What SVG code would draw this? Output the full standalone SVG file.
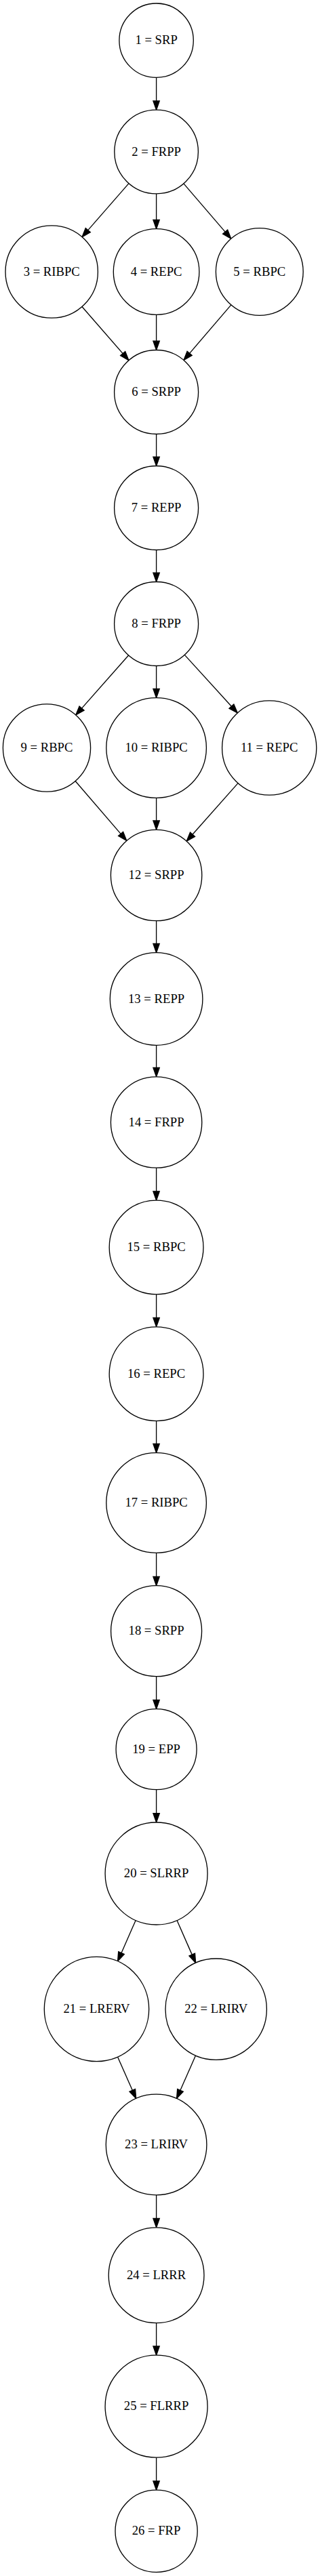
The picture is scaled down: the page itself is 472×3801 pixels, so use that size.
<svg xmlns="http://www.w3.org/2000/svg" width="472" height="3801" viewBox="0 0 472 3801">
<defs>
<style>
.n circle{fill:#fff;stroke:#000;stroke-width:1.33}
.n text{font-family:"Liberation Serif","Times New Roman",serif;font-size:18.67px;text-anchor:middle;fill:#000}
.e line{stroke:#000;stroke-width:1.33;fill:none;marker-end:url(#ah)}
</style>
<marker id="ah" markerUnits="userSpaceOnUse" markerWidth="16" markerHeight="12" refX="0" refY="0" orient="auto" overflow="visible">
<path d="M0,-4.67 L13.33,0 L0,4.67 Z" fill="#000" stroke="#000" stroke-width="1.33"/>
</marker>
</defs>
<rect x="0" y="0" width="472" height="3801" fill="#fff"/>
<g id="connectors" class="e">
<line x1="230.6" y1="114.4" x2="230.6" y2="148.9"/>
<line x1="189.98" y1="270.57" x2="129.79" y2="339.57"/>
<line x1="230.6" y1="285.8" x2="230.6" y2="324.4"/>
<line x1="270.89" y1="270.86" x2="332.12" y2="342.06"/>
<line x1="120.96" y1="452.46" x2="181.16" y2="521.66"/>
<line x1="230.6" y1="464.3" x2="230.6" y2="503.2"/>
<line x1="340.88" y1="449.89" x2="279.64" y2="521.32"/>
<line x1="230.6" y1="640.5" x2="230.6" y2="674.2"/>
<line x1="230.6" y1="811.5" x2="230.6" y2="845.2"/>
<line x1="189.56" y1="966.97" x2="120.58" y2="1045.09"/>
<line x1="230.6" y1="982.5" x2="230.6" y2="1016.4"/>
<line x1="272.34" y1="966.34" x2="341.38" y2="1042.18"/>
<line x1="111.11" y1="1152.49" x2="178.11" y2="1230.43"/>
<line x1="230.6" y1="1177.3" x2="230.6" y2="1211.0"/>
<line x1="351.04" y1="1155.59" x2="284.01" y2="1231.23"/>
<line x1="230.6" y1="1358.7" x2="230.6" y2="1392.4"/>
<line x1="230.6" y1="1542.3" x2="230.6" y2="1575.5"/>
<line x1="230.6" y1="1723.2" x2="230.6" y2="1757.8"/>
<line x1="230.6" y1="1909.9" x2="230.6" y2="1944.5"/>
<line x1="230.6" y1="2096.6" x2="230.6" y2="2130.4"/>
<line x1="230.6" y1="2291.3" x2="230.6" y2="2326.4"/>
<line x1="230.6" y1="2473.7" x2="230.6" y2="2508.4"/>
<line x1="230.6" y1="2640.7" x2="230.6" y2="2675.7"/>
<line x1="200.17" y1="2833.59" x2="178.99" y2="2881.65"/>
<line x1="261.01" y1="2833.6" x2="283.24" y2="2884.13"/>
<line x1="173.62" y1="3035.15" x2="195.28" y2="3084.31"/>
<line x1="288.56" y1="3033.05" x2="265.96" y2="3084.32"/>
<line x1="230.6" y1="3238.8" x2="230.6" y2="3273.5"/>
<line x1="230.6" y1="3427.6" x2="230.6" y2="3461.9"/>
<line x1="230.6" y1="3626.2" x2="230.6" y2="3660.9"/>
</g>
<g id="node1" class="n"><circle cx="230.6" cy="59.7" r="54.7"/><text x="230.6" y="65.2">1 = SRP</text></g>
<g id="node2" class="n"><circle cx="230.6" cy="224" r="61.8"/><text x="230.6" y="229.5">2 = FRPP</text></g>
<g id="node3" class="n"><circle cx="76.2" cy="401" r="68.2"/><text x="76.2" y="406.5">3 = RIBPC</text></g>
<g id="node4" class="n"><circle cx="230.6" cy="401" r="63.3"/><text x="230.6" y="406.5">4 = REPC</text></g>
<g id="node5" class="n"><circle cx="382.8" cy="401" r="64.4"/><text x="382.8" y="406.5">5 = RBPC</text></g>
<g id="node6" class="n"><circle cx="230.6" cy="578.5" r="62"/><text x="230.6" y="584">6 = SRPP</text></g>
<g id="node7" class="n"><circle cx="230.6" cy="749.5" r="62"/><text x="230.6" y="755">7 = REPP</text></g>
<g id="node8" class="n"><circle cx="230.6" cy="920.5" r="62"/><text x="230.6" y="926">8 = FRPP</text></g>
<g id="node9" class="n"><circle cx="69" cy="1103.5" r="64.6"/><text x="69" y="1109">9 = RBPC</text></g>
<g id="node10" class="n"><circle cx="230.6" cy="1103.5" r="73.8"/><text x="230.6" y="1109">10 = RIBPC</text></g>
<g id="node11" class="n"><circle cx="397.2" cy="1103.5" r="69.6"/><text x="397.2" y="1109">11 = REPC</text></g>
<g id="node12" class="n"><circle cx="230.6" cy="1291.5" r="67.2"/><text x="230.6" y="1297">12 = SRPP</text></g>
<g id="node13" class="n"><circle cx="230.6" cy="1474" r="68.3"/><text x="230.6" y="1479.5">13 = REPP</text></g>
<g id="node14" class="n"><circle cx="230.6" cy="1656" r="67.2"/><text x="230.6" y="1661.5">14 = FRPP</text></g>
<g id="node15" class="n"><circle cx="230.6" cy="1840.5" r="69.4"/><text x="230.6" y="1846">15 = RBPC</text></g>
<g id="node16" class="n"><circle cx="230.6" cy="2027.2" r="69.4"/><text x="230.6" y="2032.7">16 = REPC</text></g>
<g id="node17" class="n"><circle cx="230.6" cy="2217.5" r="73.8"/><text x="230.6" y="2223">17 = RIBPC</text></g>
<g id="node18" class="n"><circle cx="230.6" cy="2406.7" r="67"/><text x="230.6" y="2412.2">18 = SRPP</text></g>
<g id="node19" class="n"><circle cx="230.6" cy="2581.2" r="59.5"/><text x="230.6" y="2586.7">19 = EPP</text></g>
<g id="node20" class="n"><circle cx="230.6" cy="2764.5" r="75.5"/><text x="230.6" y="2770">20 = SLRRP</text></g>
<g id="node21" class="n"><circle cx="142.5" cy="2964.5" r="77.2"/><text x="142.5" y="2970">21 = LRERV</text></g>
<g id="node22" class="n"><circle cx="318.7" cy="2964.7" r="74.7"/><text x="318.7" y="2970.2">22 = LRIRV</text></g>
<g id="node23" class="n"><circle cx="230.6" cy="3164.5" r="74.3"/><text x="230.6" y="3170">23 = LRIRV</text></g>
<g id="node24" class="n"><circle cx="230.6" cy="3357.2" r="70.4"/><text x="230.6" y="3362.7">24 = LRRR</text></g>
<g id="node25" class="n"><circle cx="230.6" cy="3550.7" r="75.5"/><text x="230.6" y="3556.2">25 = FLRRP</text></g>
<g id="node26" class="n"><circle cx="230.6" cy="3734.8" r="60.6"/><text x="230.6" y="3740.3">26 = FRP</text></g>
</svg>
